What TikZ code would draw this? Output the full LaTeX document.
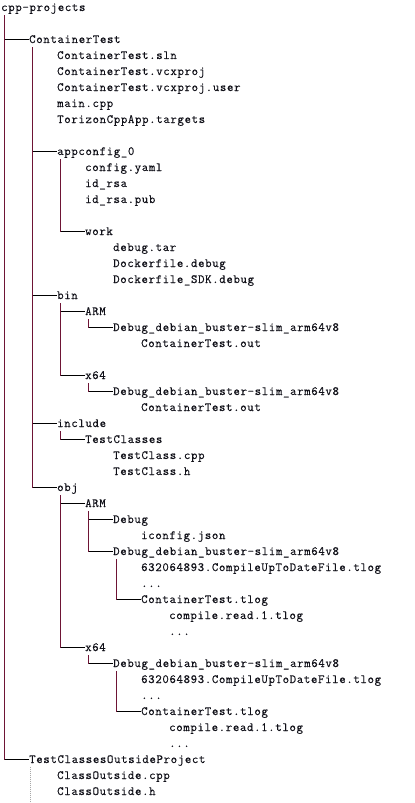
\documentclass[tikz,border=0pt]{standalone}
\usepackage{fontspec}
\setmonofont[LetterSpace=5.1,FakeBold=0.4]{Latin Modern Mono}
\usetikzlibrary{calc}
\definecolor{cTxt}{HTML}{101018}
\definecolor{cVert}{HTML}{6E1435}
\definecolor{cHorz}{HTML}{000000}
\definecolor{cGuide}{HTML}{A8A8A8}
\tikzset{
  fsent/.style={anchor=base west,inner sep=0pt,text height=9bp,text depth=2bp,
      font=\ttfamily\fontsize{12.5bp}{14bp}\selectfont,text=cTxt},
  fsvert/.style={draw=cVert,line width=1bp,line cap=rect},
  fshorz/.style={draw=cHorz,line width=1bp},
  fsguide/.style={draw=cGuide,line width=1bp,dash pattern=on 1bp off 1bp},
}
% name, column, row, text
\newcommand{\fsnode}[4]{\node[fsent] (#1) at ({7*#2+1},{16*#3+11}) {#4};}
% parent, last child, child folders
\newcommand{\fsbranch}[3]{%
  \coordinate (#1v) at ($(#1.west)+(3.5,8)$);
  \draw[fsvert] (#1v) -- (#1v |- #2.west);
  \foreach \kid in {#3} \draw[fshorz] (#1v |- \kid.west) -- (\kid.west);}

\begin{document}
\begin{tikzpicture}[x=1bp,y=-1bp]
  \useasboundingbox (0,0) rectangle (414,803);

  \fsnode{root}{0}{0}{cpp-projects}
  \fsnode{ct}{4}{2}{ContainerTest}
  \fsnode{sln}{8}{3}{ContainerTest.sln}
  \fsnode{vcx}{8}{4}{ContainerTest.vcxproj}
  \fsnode{vcxu}{8}{5}{ContainerTest.vcxproj.user}
  \fsnode{mcpp}{8}{6}{main.cpp}
  \fsnode{targ}{8}{7}{TorizonCppApp.targets}
  \fsnode{appcfg}{8}{9}{appconfig\_0}
  \fsnode{yaml}{12}{10}{config.yaml}
  \fsnode{rsa}{12}{11}{id\_rsa}
  \fsnode{rsapub}{12}{12}{id\_rsa.pub}
  \fsnode{work}{12}{14}{work}
  \fsnode{dtar}{16}{15}{debug.tar}
  \fsnode{dfdbg}{16}{16}{Dockerfile.debug}
  \fsnode{dfsdk}{16}{17}{Dockerfile\_SDK.debug}
  \fsnode{bin}{8}{18}{bin}
  \fsnode{binarm}{12}{19}{ARM}
  \fsnode{binarmdbg}{16}{20}{Debug\_debian\_buster-slim\_arm64v8}
  \fsnode{binarmout}{20}{21}{ContainerTest.out}
  \fsnode{binx}{12}{23}{x64}
  \fsnode{binxdbg}{16}{24}{Debug\_debian\_buster-slim\_arm64v8}
  \fsnode{binxout}{20}{25}{ContainerTest.out}
  \fsnode{inc}{8}{26}{include}
  \fsnode{tcls}{12}{27}{TestClasses}
  \fsnode{tcpp}{16}{28}{TestClass.cpp}
  \fsnode{th}{16}{29}{TestClass.h}
  \fsnode{obj}{8}{30}{obj}
  \fsnode{objarm}{12}{31}{ARM}
  \fsnode{objarmd}{16}{32}{Debug}
  \fsnode{icfg}{20}{33}{iconfig.json}
  \fsnode{objarmdbg}{16}{34}{Debug\_debian\_buster-slim\_arm64v8}
  \fsnode{armutd}{20}{35}{632064893.CompileUpToDateFile.tlog}
  \fsnode{armdots}{20}{36}{...}
  \fsnode{armtlog}{20}{37}{ContainerTest.tlog}
  \fsnode{armread}{24}{38}{compile.read.1.tlog}
  \fsnode{armrdots}{24}{39}{...}
  \fsnode{objx}{12}{40}{x64}
  \fsnode{objxdbg}{16}{41}{Debug\_debian\_buster-slim\_arm64v8}
  \fsnode{xutd}{20}{42}{632064893.CompileUpToDateFile.tlog}
  \fsnode{xdots}{20}{43}{...}
  \fsnode{xtlog}{20}{44}{ContainerTest.tlog}
  \fsnode{xread}{24}{45}{compile.read.1.tlog}
  \fsnode{xrdots}{24}{46}{...}
  \fsnode{tcop}{4}{47}{TestClassesOutsideProject}
  \fsnode{cocpp}{8}{48}{ClassOutside.cpp}
  \fsnode{coh}{8}{49}{ClassOutside.h}

  \fsbranch{root}{tcop}{ct,tcop}
  \fsbranch{ct}{obj}{appcfg,bin,inc,obj}
  \fsbranch{appcfg}{work}{work}
  \fsbranch{bin}{binx}{binarm,binx}
  \fsbranch{binarm}{binarmdbg}{binarmdbg}
  \fsbranch{binx}{binxdbg}{binxdbg}
  \fsbranch{inc}{tcls}{tcls}
  \fsbranch{obj}{objx}{objarm,objx}
  \fsbranch{objarm}{objarmdbg}{objarmd,objarmdbg}
  \fsbranch{objarmdbg}{armtlog}{armtlog}
  \fsbranch{objx}{objxdbg}{objxdbg}
  \fsbranch{objxdbg}{xtlog}{xtlog}

  % indent guide below the last folder
  \draw[fsguide] ($(tcop.west)+(1,7)$) -- ($(tcop.west)+(1,44)$);
\end{tikzpicture}
\end{document}
